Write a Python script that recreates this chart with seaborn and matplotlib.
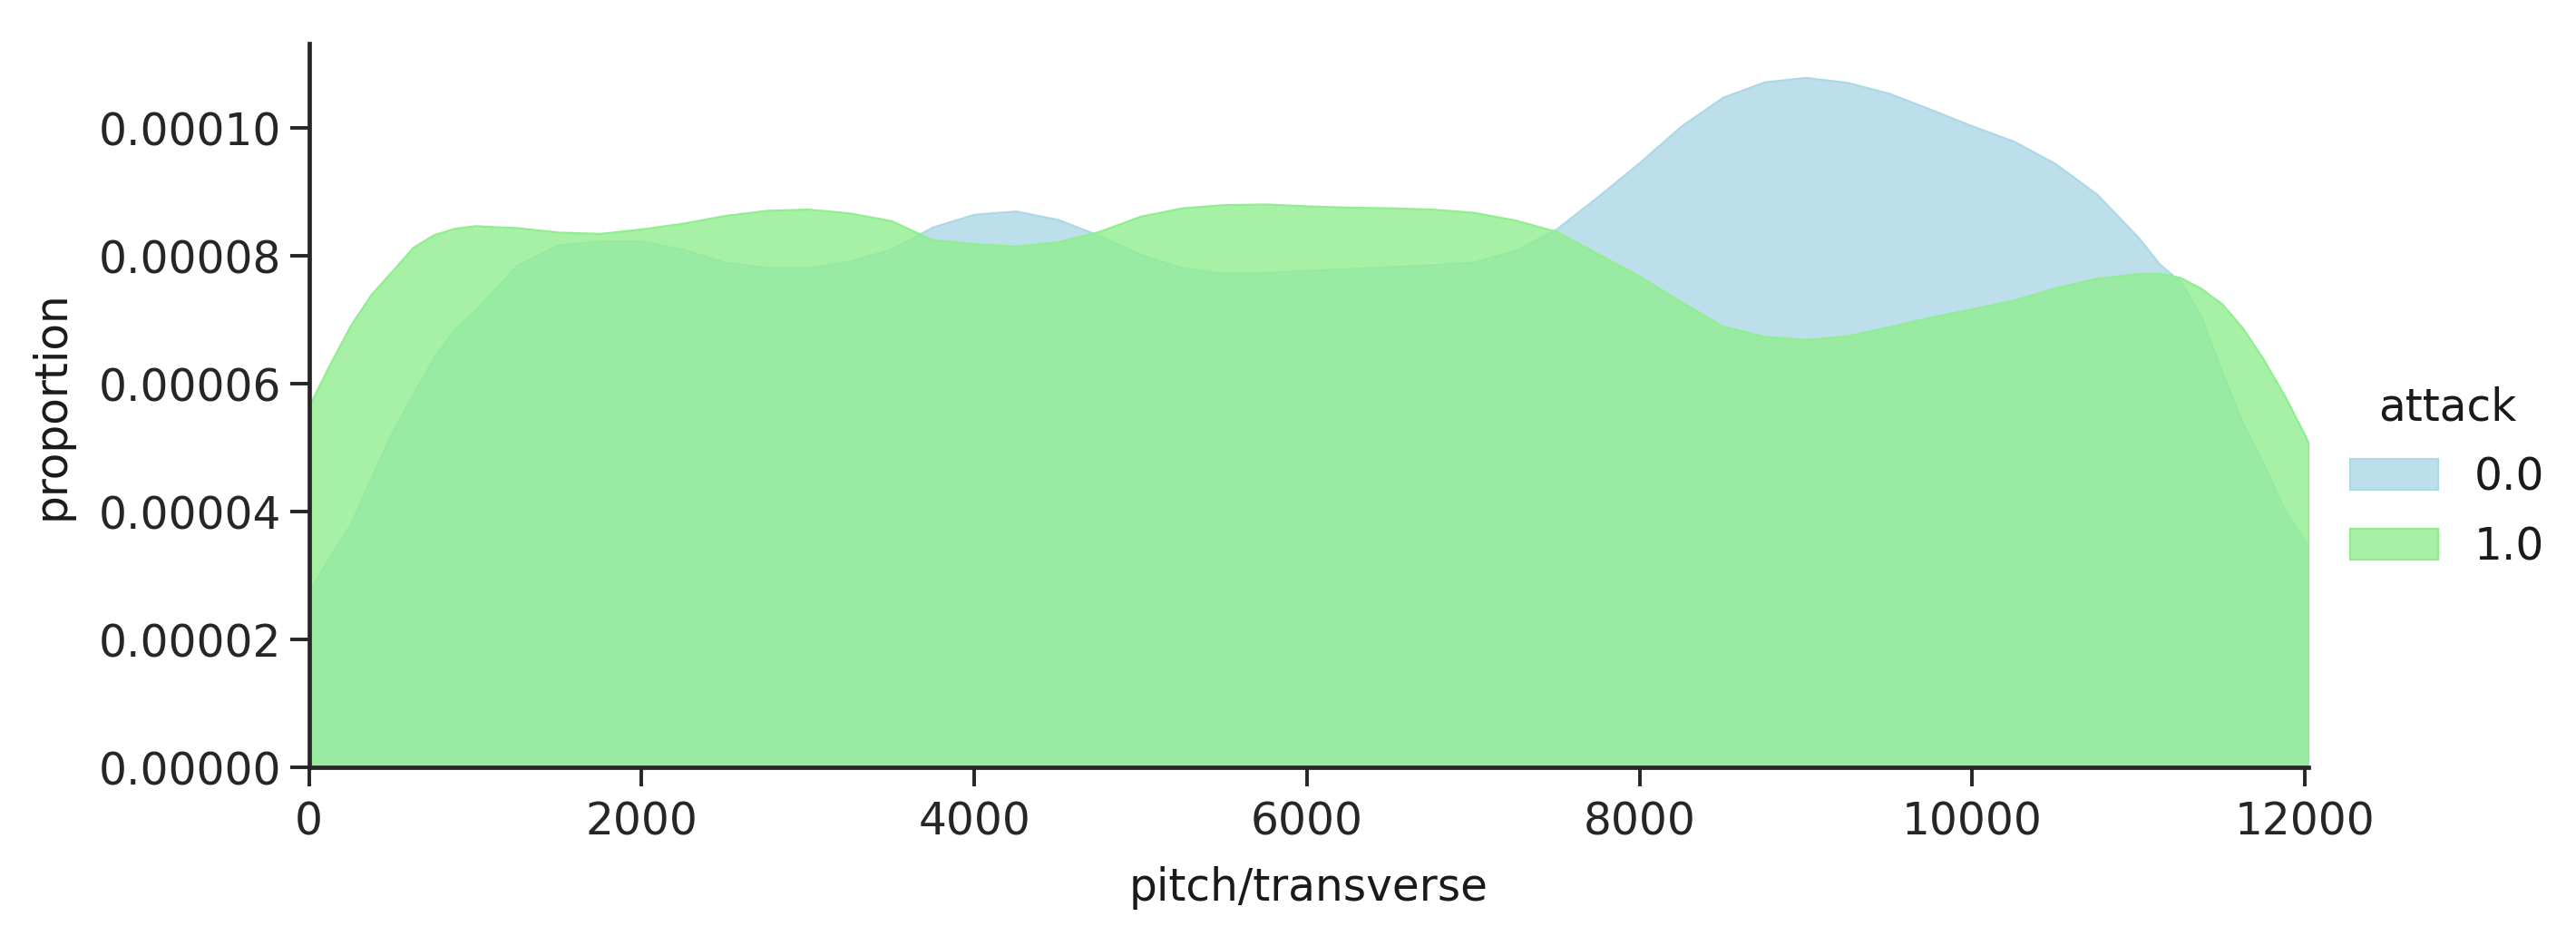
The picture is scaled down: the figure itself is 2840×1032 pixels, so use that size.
import matplotlib
matplotlib.use("Agg")
import matplotlib.pyplot as plt
import matplotlib.ticker as mticker
import seaborn as sns
import numpy as np

# pitch/transverse grid and KDE densities (units of 1e-5)
pitch = [0, 125, 250, 375, 500, 625, 750, 875, 1000, 1250, 1500, 1750, 2000, 2250,
         2500, 2750, 3000, 3250, 3500, 3750, 4000, 4250, 4500, 4750, 5000, 5250,
         5500, 5750, 6000, 6250, 6500, 6750, 7000, 7250, 7500, 7750, 8000, 8250,
         8500, 8750, 9000, 9250, 9500, 9750, 10000, 10250, 10500, 10750, 11000,
         11125, 11250, 11375, 11500, 11625, 11750, 11875, 12000, 12020]

density_attack0 = [2.75, 3.29, 3.80, 4.53, 5.24, 5.83, 6.40, 6.85, 7.15, 7.85, 8.17, 8.23,
                   8.23, 8.10, 7.90, 7.82, 7.81, 7.92, 8.10, 8.45, 8.65, 8.70, 8.57, 8.32,
                   8.02, 7.81, 7.73, 7.74, 7.77, 7.80, 7.83, 7.86, 7.90, 8.08, 8.42, 8.93,
                   9.46, 10.03, 10.48, 10.72, 10.79, 10.71, 10.54, 10.29, 10.03, 9.79,
                   9.44, 8.96, 8.28, 7.87, 7.60, 7.05, 6.19, 5.38, 4.75, 4.03, 3.54, 3.45]

density_attack1 = [5.65, 6.30, 6.91, 7.40, 7.76, 8.13, 8.33, 8.43, 8.47, 8.44, 8.37, 8.35,
                   8.42, 8.51, 8.63, 8.71, 8.73, 8.67, 8.55, 8.25, 8.19, 8.15, 8.22, 8.38,
                   8.62, 8.75, 8.80, 8.81, 8.78, 8.76, 8.75, 8.73, 8.68, 8.56, 8.38, 8.03,
                   7.68, 7.28, 6.90, 6.74, 6.69, 6.75, 6.89, 7.04, 7.17, 7.31, 7.50, 7.65,
                   7.72, 7.73, 7.66, 7.49, 7.25, 6.87, 6.38, 5.82, 5.19, 5.07]

hue_levels = ["0.0", "1.0"]
hue_colors = ["lightblue", "lightgreen"]
y_ticks = [0.0, 0.00002, 0.00004, 0.00006, 0.00008, 0.00010]
x_ticks = [0, 2000, 4000, 6000, 8000, 10000, 12000]

sns.set_style("ticks")
plt.rcParams["font.family"] = ["DejaVu Sans"]
plt.rcParams["text.color"] = "0.1"
plt.rcParams["axes.labelcolor"] = "0.1"
plt.rcParams["xtick.color"] = "0.15"
plt.rcParams["ytick.color"] = "0.15"

fig = plt.figure(figsize=(14.2, 5.16), dpi=200)
ax = fig.add_axes([0.1199, 0.1802, 0.8961 - 0.1199, 0.9535 - 0.1802])

x = np.array(pitch)
for level, color, dens in zip(hue_levels, hue_colors,
                              [density_attack0, density_attack1]):
    y = np.array(dens) * 1e-5
    rgb = matplotlib.colors.to_rgb(color)
    ax.fill_between(x, 0, y, facecolor=(*rgb, 0.8), edgecolor=rgb,
                    linewidth=0.8, label=level)

ax.set_xlim(0, 12020)
ax.set_ylim(0, 0.0001132)
ax.set_xticks(x_ticks)
ax.set_yticks(y_ticks)
ax.yaxis.set_major_formatter(mticker.FormatStrFormatter("%.5f"))
ax.tick_params(labelsize=17.5, length=7.5, width=1.4)
ax.tick_params(axis="x", pad=5.5)
ax.tick_params(axis="y", pad=3.5)
for side in ["left", "bottom"]:
    ax.spines[side].set_linewidth(1.7)
    ax.spines[side].set_color("0.15")
sns.despine(ax=ax)

ax.set_xlabel("pitch/transverse", fontsize=17.5, labelpad=9)
ax.set_ylabel("proportion", fontsize=17.5, labelpad=10)

leg = fig.legend(*ax.get_legend_handles_labels(), title="attack",
                 loc="center left", bbox_to_anchor=(0.897, 0.49),
                 frameon=False, fontsize=17.5, title_fontsize=17.5,
                 labelspacing=0.6)

fig.savefig("out.png", dpi=200)
